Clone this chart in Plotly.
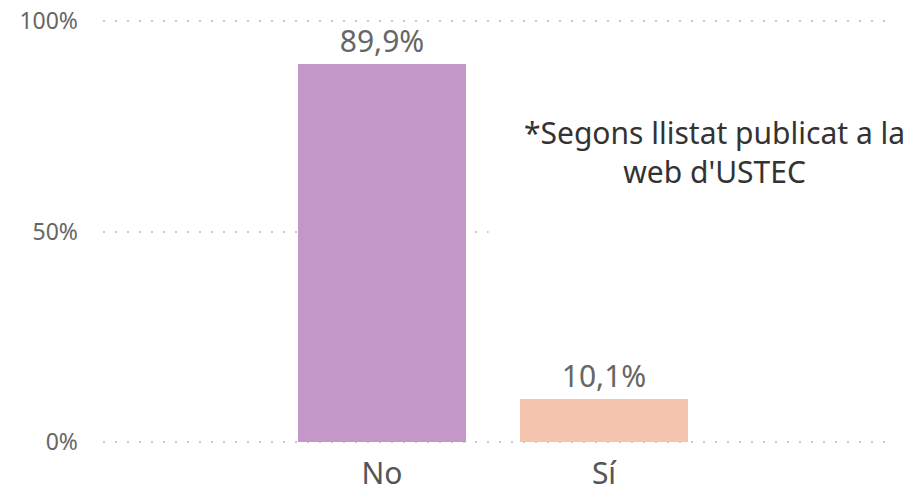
import plotly.graph_objects as go

categories = ["No", "Sí"]
values = [0.899, 0.101]
colors = ["#C497C9", "#F4C4AE"]
note_text = "*Segons llistat publicat a la<br>web d'USTEC"
tick_vals = [0, 0.5, 1.0]

FONT = "Noto Sans"

fig = go.Figure()
fig.add_trace(go.Bar(
    x=categories, y=values,
    marker=dict(color=colors, line=dict(width=0)),
    width=0.757,
    text=values, texttemplate="%{y:.1%}", textposition="outside",
    textfont=dict(family=FONT, size=30, color="#666666"),
    cliponaxis=False,
))

# white text-box background hiding the gridline behind the note
fig.add_shape(type="rect", xref="x", yref="y",
              x0=0.48, x1=2.5, y0=0.42, y1=0.9,
              fillcolor="white", line=dict(width=0), layer="between")

fig.add_annotation(text=note_text, xref="paper", yref="paper",
                   x=0.776, y=0.687, xanchor="center", yanchor="middle",
                   showarrow=False, align="center",
                   font=dict(family=FONT, size=30, color="#333333"))

fig.update_layout(
    width=907, height=480,
    margin=dict(l=95, r=24, t=12, b=45, autoexpand=False),
    paper_bgcolor="white", plot_bgcolor="white",
    separators=",.",
    showlegend=False,
    bargap=0,
    xaxis=dict(range=[-1.257, 2.293], showgrid=False, zeroline=False,
               showline=False, ticks="", automargin=False,
               ticklabelstandoff=10, ticklabeloverflow="allow",
               tickfont=dict(family=FONT, size=30, color="#555555")),
    yaxis=dict(range=[-0.003, 1.003], tickvals=tick_vals, tickformat=".0%",
               showgrid=True, gridcolor="#C8C8C8", gridwidth=2,
               griddash="2px,10px", zeroline=False, showline=False,
               ticks="", ticklabelstandoff=24, automargin=False,
               ticklabeloverflow="allow",
               tickfont=dict(family=FONT, size=23, color="#666666")),
)

fig.write_html("out.html")
